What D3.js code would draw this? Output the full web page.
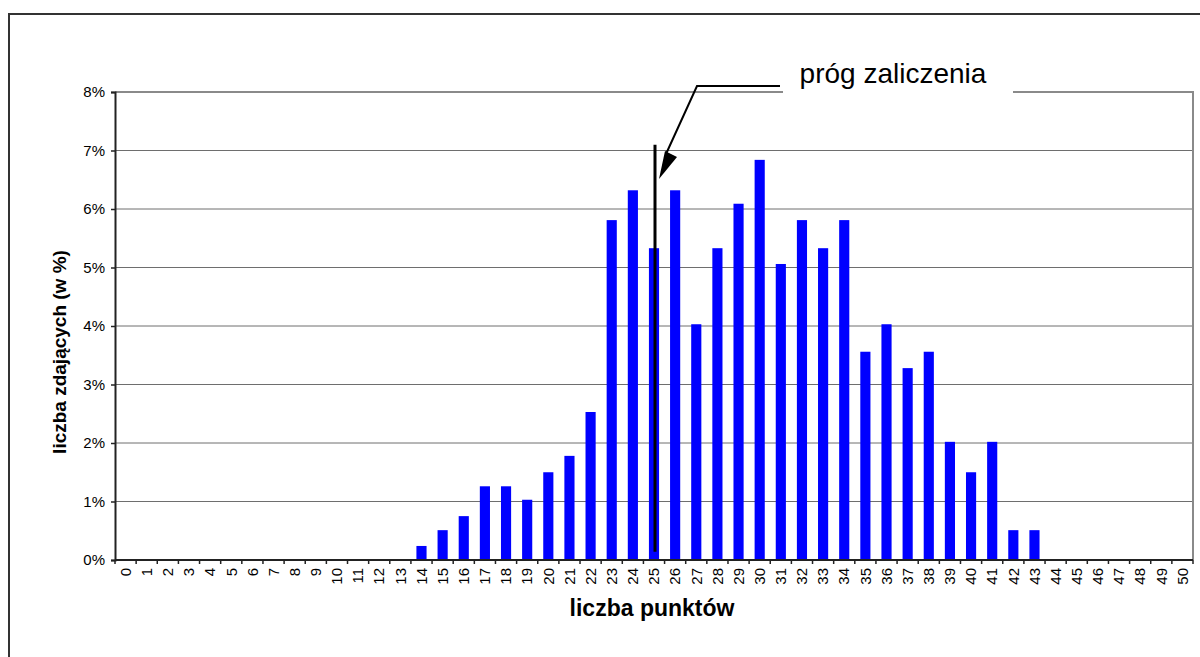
<!DOCTYPE html>
<meta charset="utf-8">
<style>
  body { margin: 0; background: #fff; font-family: Arial, "Liberation Sans", sans-serif; }
  svg { display: block; font-family: Arial, "Liberation Sans", sans-serif; }
</style>
<body>
  <svg id="chart" width="1200" height="657"></svg>
</body>
<script src="https://cdnjs.cloudflare.com/ajax/libs/d3/7.8.5/d3.min.js"></script>
<script>
// liczba punktów 0..50
var points = d3.range(0, 51).map(String);
// odsetek zdających (w %) dla kolejnych liczb punktów
var shares = [0, 0, 0, 0, 0, 0, 0, 0, 0, 0,
  0, 0, 0, 0, 0.24, 0.51, 0.75, 1.26, 1.26, 1.03,
  1.50, 1.78, 2.53, 5.81, 6.32, 5.33, 6.32, 4.03, 5.33, 6.09,
  6.84, 5.06, 5.81, 5.33, 5.81, 3.56, 4.03, 3.28, 3.56, 2.02,
  1.50, 2.02, 0.51, 0.51, 0, 0, 0, 0, 0, 0, 0];
var yTicks = [0, 1, 2, 3, 4, 5, 6, 7, 8];
var threshold = "25";            // próg zaliczenia
var thresholdSpan = [0.14, 7.1]; // zakres pionowej linii progu (w %)

(function () {
  var svg = d3.select("#chart");
  var pLeft = 115, pRight = 1193, pTop = 92, pBottom = 560;
  var labelSize = "15px";

  var x = d3.scaleBand().domain(points).range([pLeft, pRight]).padding(0);
  var y = d3.scaleLinear().domain([0, 8]).range([pBottom, pTop]);

  // outer frame
  svg.append("rect")
    .attr("x", 9).attr("y", 14).attr("width", 1250).attr("height", 700)
    .attr("fill", "none").attr("stroke", "#333").attr("stroke-width", 2);

  // gridlines
  svg.append("g").selectAll("line").data(yTicks.filter(function (d) { return d > 0 && d < 8; }))
    .enter().append("line")
    .attr("x1", pLeft).attr("x2", pRight)
    .attr("y1", function (d) { return y(d); }).attr("y2", function (d) { return y(d); })
    .attr("stroke", "#6e6e6e").attr("stroke-width", 1);

  // plot border (top + right)
  svg.append("path")
    .attr("d", "M" + pLeft + "," + y(8) + "H" + pRight + "V" + y(0))
    .attr("fill", "none").attr("stroke", "#8a8a8a").attr("stroke-width", 2);

  // bars
  var bw = x.bandwidth() * 0.48;
  svg.append("g").selectAll("rect").data(shares)
    .enter().append("rect")
    .attr("x", function (d, i) { return x(points[i]) + (x.bandwidth() - bw) / 2; })
    .attr("y", function (d) { return y(d); })
    .attr("width", bw)
    .attr("height", function (d) { return y(0) - y(d); })
    .attr("fill", "#0000ff");

  // y axis
  var yAxis = svg.append("g").attr("transform", "translate(" + pLeft + ",0)")
    .call(d3.axisLeft(y).tickValues(yTicks).tickSize(4).tickPadding(6)
      .tickFormat(function (d) { return d + "%"; }));
  yAxis.attr("font-family", null).attr("font-size", null);
  yAxis.select(".domain").attr("stroke", "#222").attr("stroke-width", 2);
  yAxis.selectAll(".tick line").attr("stroke", "#222").attr("stroke-width", 1.5);
  yAxis.selectAll("text").style("font-size", labelSize).attr("fill", "#000");

  // x axis: ticks at category boundaries
  var edges = points.map(function (p) { return x(p); }).concat([pRight]);
  var xAxis = svg.append("g");
  xAxis.append("line")
    .attr("x1", pLeft).attr("x2", pRight).attr("y1", pBottom).attr("y2", pBottom)
    .attr("stroke", "#222").attr("stroke-width", 2);
  xAxis.selectAll(".tk").data(edges).enter().append("line")
    .attr("x1", function (d) { return d; }).attr("x2", function (d) { return d; })
    .attr("y1", pBottom).attr("y2", pBottom + 4)
    .attr("stroke", "#222").attr("stroke-width", 1.5);
  xAxis.selectAll("text").data(points).enter().append("text")
    .style("font-size", labelSize)
    .attr("transform", function (d) {
      return "translate(" + (x(d) + x.bandwidth() / 2) + "," + (pBottom + 8) + ") rotate(-90)";
    })
    .attr("text-anchor", "end")
    .attr("dy", "0.35em")
    .text(function (d) { return d; });

  // axis titles
  svg.append("text")
    .attr("x", 652).attr("y", 616)
    .attr("text-anchor", "middle")
    .attr("font-weight", "bold").style("font-size", "23px")
    .text("liczba punktów");
  svg.append("text")
    .attr("transform", "translate(66,352) rotate(-90)")
    .attr("text-anchor", "middle")
    .attr("font-weight", "bold").style("font-size", "19px")
    .text("liczba zdających (w %)");

  // threshold line
  var tx = x(threshold) + x.bandwidth() / 2 + 1;
  svg.append("line")
    .attr("x1", tx).attr("x2", tx)
    .attr("y1", y(thresholdSpan[1])).attr("y2", y(thresholdSpan[0]))
    .attr("stroke", "#000").attr("stroke-width", 3);

  // callout label with white box over the top border
  svg.append("rect")
    .attr("x", 783).attr("y", 58).attr("width", 230).attr("height", 40)
    .attr("fill", "#fff");
  svg.append("text")
    .attr("x", 893).attr("y", 83)
    .attr("text-anchor", "middle")
    .style("font-size", "28px")
    .text("próg zaliczenia");

  // callout arrow
  svg.append("path")
    .attr("d", "M780,86H697L666,154")
    .attr("fill", "none").attr("stroke", "#000").attr("stroke-width", 2);
  svg.append("path")
    .attr("d", "M659,179L665,151L677,157Z")
    .attr("fill", "#000");
})();
</script>
